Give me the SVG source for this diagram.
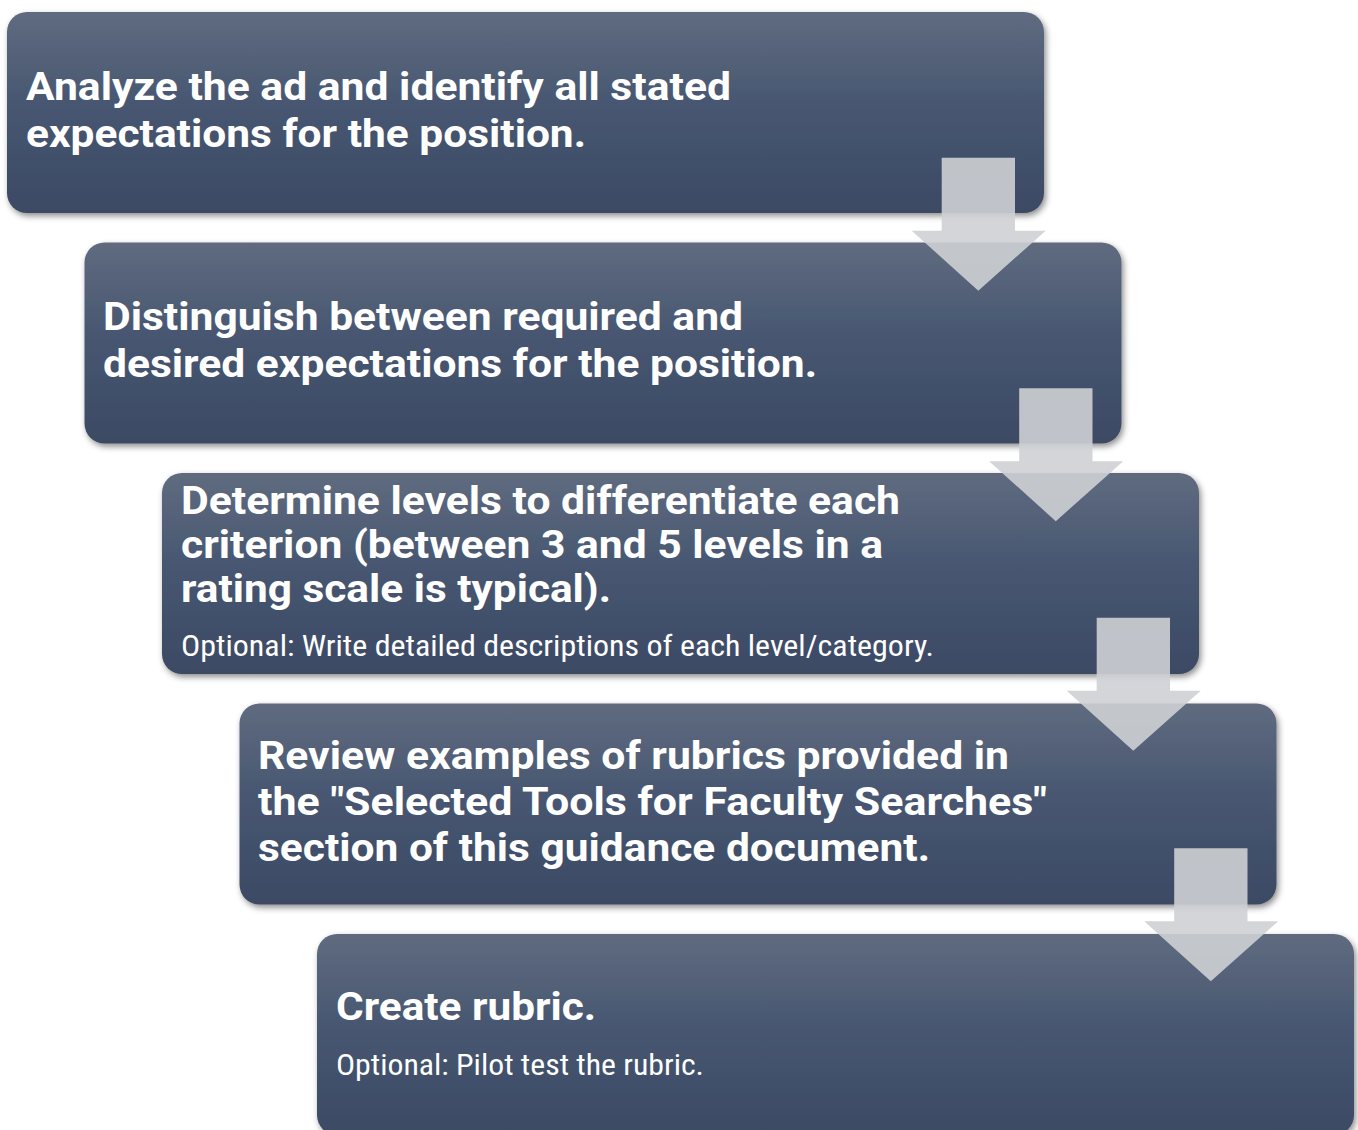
<svg xmlns="http://www.w3.org/2000/svg" width="1358" height="1130" viewBox="0 0 1358 1130">
<style>
.box{fill:url(#g);filter:url(#sh)}
.t{font-family:Roboto,"Liberation Sans",sans-serif;font-weight:700;font-size:38.5px;fill:#fff}
.o{font-family:"Roboto Condensed",Roboto,"Liberation Sans",sans-serif;font-weight:400;font-size:29px;fill:#fff}
.arr{fill:#ced0d4;fill-opacity:0.9}
</style>
<defs>
<linearGradient id="g" x1="0" y1="0" x2="0" y2="1">
<stop offset="0" stop-color="#5f6b7f"/>
<stop offset="0.5" stop-color="#465570"/>
<stop offset="1" stop-color="#3c4a64"/>
</linearGradient>
<filter id="sh" x="-5%" y="-10%" width="110%" height="125%">
<feDropShadow dx="2" dy="3" stdDeviation="3" flood-color="#000" flood-opacity="0.45"/>
</filter>
<path id="a" d="M941.7,157.7 H1015 V230.7 H1045.7 L978.3,290.7 L911.7,230.7 H941.7 Z"/>
</defs>
<rect width="1358" height="1130" fill="#fff"/>
<g id="node1">
<rect class="box" x="7" y="12" width="1037" height="201" rx="20"/>
<text class="t" x="26" y="100" textLength="705" lengthAdjust="spacingAndGlyphs">Analyze the ad and identify all stated</text>
<text class="t" x="26" y="147" textLength="560" lengthAdjust="spacingAndGlyphs">expectations for the position.</text>
</g>
<g id="node2">
<rect class="box" x="84.5" y="242.5" width="1037" height="201" rx="20"/>
<text class="t" x="103" y="330" textLength="640" lengthAdjust="spacingAndGlyphs">Distinguish between required and</text>
<text class="t" x="103" y="377" textLength="714" lengthAdjust="spacingAndGlyphs">desired expectations for the position.</text>
</g>
<g id="node3">
<rect class="box" x="162" y="473" width="1037" height="201" rx="20"/>
<text class="t" x="181" y="514" textLength="719" lengthAdjust="spacingAndGlyphs">Determine levels to differentiate each</text>
<text class="t" x="181" y="558" textLength="702" lengthAdjust="spacingAndGlyphs">criterion (between 3 and 5 levels in a</text>
<text class="t" x="181" y="602" textLength="430" lengthAdjust="spacingAndGlyphs">rating scale is typical).</text>
<text class="o" x="181" y="656" textLength="753" lengthAdjust="spacingAndGlyphs">Optional: Write detailed descriptions of each level/category.</text>
</g>
<g id="node4">
<rect class="box" x="239.5" y="703.5" width="1037" height="201" rx="20"/>
<text class="t" x="258" y="769" textLength="751" lengthAdjust="spacingAndGlyphs">Review examples of rubrics provided in</text>
<text class="t" x="258" y="815" textLength="789" lengthAdjust="spacingAndGlyphs">the "Selected Tools for Faculty Searches"</text>
<text class="t" x="258" y="861" textLength="672" lengthAdjust="spacingAndGlyphs">section of this guidance document.</text>
</g>
<g id="node5">
<rect class="box" x="317" y="934" width="1037" height="201" rx="20"/>
<text class="t" x="336" y="1020" textLength="260" lengthAdjust="spacingAndGlyphs">Create rubric.</text>
<text class="o" x="336" y="1075" textLength="368" lengthAdjust="spacingAndGlyphs">Optional: Pilot test the rubric.</text>
</g>
<g id="connectors">
<use href="#a" class="arr"/>
<use href="#a" class="arr" transform="translate(77.5,230.5)"/>
<use href="#a" class="arr" transform="translate(155,460)"/>
<use href="#a" class="arr" transform="translate(232.5,690.5)"/>
</g>
</svg>
